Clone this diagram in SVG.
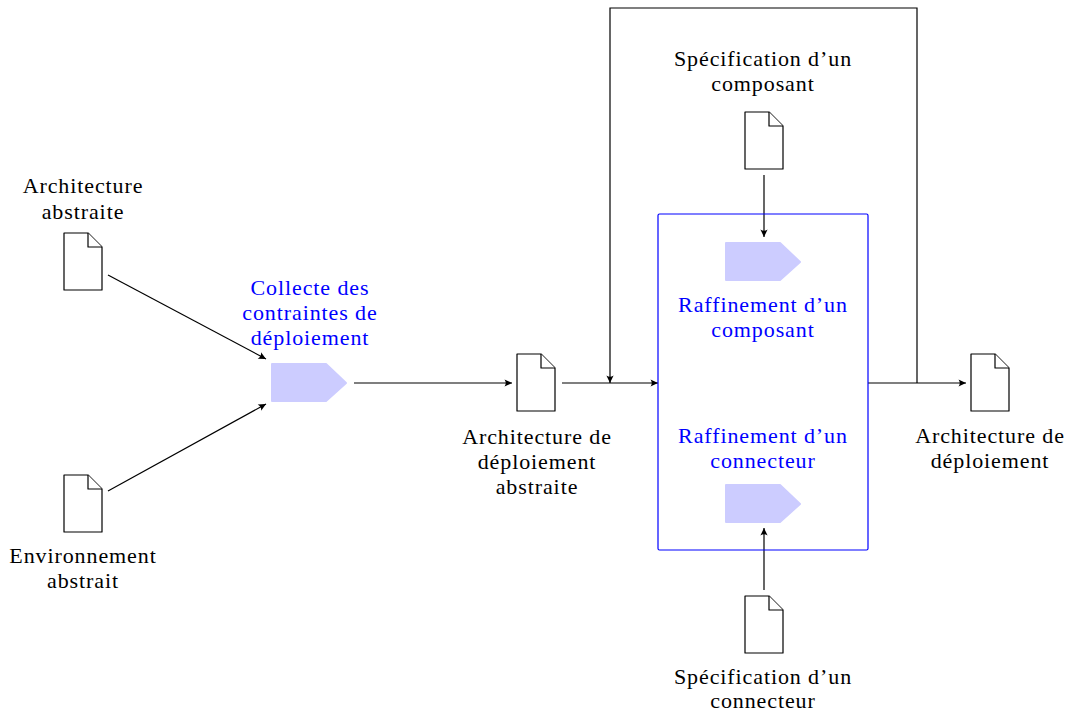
<svg xmlns="http://www.w3.org/2000/svg" xmlns:xlink="http://www.w3.org/1999/xlink" width="1069" height="713" viewBox="0 0 1069 713">
<style>
.t{font-family:"Liberation Serif","Times New Roman",serif;font-size:22px;letter-spacing:0.9px;fill:#000;text-anchor:middle}
.b{fill:#0000ff}
.doc{fill:#fff;stroke:#000;stroke-width:1.2;stroke-linejoin:round}
.tag{fill:#ccccff;stroke:#ccccff;stroke-width:2;stroke-linejoin:round}
.c{fill:none;stroke:#000;stroke-width:1.2}
</style>
<defs>
<marker id="ah" viewBox="-8 -4 9 8" refX="0" refY="0" markerWidth="9" markerHeight="8" markerUnits="userSpaceOnUse" orient="auto">
<path d="M0,0 L-7.5,-3.6 Q-5,0 -7.5,3.6 Z" fill="#000"/>
</marker>
<g id="docshape">
<path class="doc" d="M0,0 H24 L38,14 V57 H0 Z"/>
<path class="doc" fill="none" d="M24,0 V14 H38"/>
</g>
<path id="tagshape" class="tag" d="M1,1 H55 L75,20 L55,38 H1 Z"/>
</defs>
<rect width="1069" height="713" fill="#fff"/>

<g id="connectors">
<path class="c" d="M108,275 L266,359" marker-end="url(#ah)"/>
<path class="c" d="M108,491 L266,404" marker-end="url(#ah)"/>
<path class="c" d="M354,383 H512" marker-end="url(#ah)"/>
<path class="c" d="M562,383 H658" marker-end="url(#ah)"/>
<path class="c" d="M917,383 V8 H610 V383" marker-end="url(#ah)"/>
<path class="c" d="M868,383 H966" marker-end="url(#ah)"/>
<path class="c" d="M764,175 V237" marker-end="url(#ah)"/>
<path class="c" d="M764,590 V528" marker-end="url(#ah)"/>
</g>

<g id="raffinement-box">
<rect x="658" y="214" width="210" height="336" rx="1.5" fill="none" stroke="#0000ff" stroke-width="1.2"/>
</g>

<g id="doc-archi-abstraite">
<use xlink:href="#docshape" transform="translate(64,233)"/>
<text class="t" x="83" y="193">Architecture</text>
<text class="t" x="83" y="218.5">abstraite</text>
</g>

<g id="doc-env-abstrait">
<use xlink:href="#docshape" transform="translate(64,475)"/>
<text class="t" x="83" y="563">Environnement</text>
<text class="t" x="83" y="588">abstrait</text>
</g>

<g id="proc-collecte">
<use xlink:href="#tagshape" transform="translate(271,363)"/>
<text class="t b" x="310" y="295">Collecte des</text>
<text class="t b" x="310" y="320">contraintes de</text>
<text class="t b" x="310" y="345">déploiement</text>
</g>

<g id="doc-archi-depl-abstraite">
<use xlink:href="#docshape" transform="translate(517,354)"/>
<text class="t" x="537" y="444">Architecture de</text>
<text class="t" x="537" y="469">déploiement</text>
<text class="t" x="537" y="494">abstraite</text>
</g>

<g id="doc-spec-composant">
<use xlink:href="#docshape" transform="translate(745,112)"/>
<text class="t" x="763" y="66">Spécification d’un</text>
<text class="t" x="763" y="91">composant</text>
</g>

<g id="proc-raff-composant">
<use xlink:href="#tagshape" transform="translate(725,242)"/>
<text class="t b" x="763" y="312">Raffinement d’un</text>
<text class="t b" x="763" y="337">composant</text>
</g>

<g id="proc-raff-connecteur">
<use xlink:href="#tagshape" transform="translate(725,484)"/>
<text class="t b" x="763" y="443">Raffinement d’un</text>
<text class="t b" x="763" y="468">connecteur</text>
</g>

<g id="doc-spec-connecteur">
<use xlink:href="#docshape" transform="translate(745,596)"/>
<text class="t" x="763" y="684">Spécification d’un</text>
<text class="t" x="763" y="708">connecteur</text>
</g>

<g id="doc-archi-depl">
<use xlink:href="#docshape" transform="translate(971,354)"/>
<text class="t" x="990" y="443">Architecture de</text>
<text class="t" x="990" y="468">déploiement</text>
</g>
</svg>
